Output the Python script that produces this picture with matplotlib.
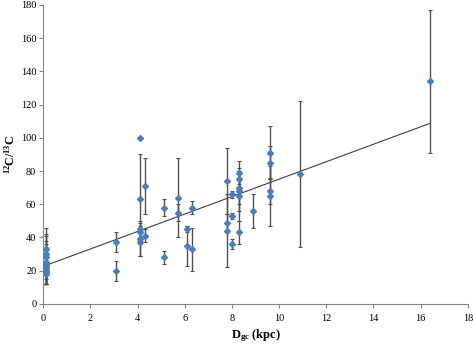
import numpy as np
import matplotlib
matplotlib.use("Agg")
import matplotlib.pyplot as plt

# values
x_gc = [0.1, 0.1, 0.1, 0.1, 0.1, 0.1, 0.1, 0.1, 0.1, 0.1, 0.1,
        3.1, 3.1,
        4.1, 4.1, 4.1, 4.1, 4.1, 4.1,
        4.3, 4.3,
        5.1, 5.1,
        5.7, 5.7,
        6.1, 6.1,
        6.3, 6.3,
        7.8, 7.8, 7.8,
        8.0, 8.0, 8.0,
        8.3, 8.3, 8.3, 8.3, 8.3, 8.3,
        8.9,
        9.6, 9.6, 9.6, 9.6,
        10.9,
        16.4]
ratio = [33, 30, 28, 25, 24, 23, 22, 21, 20, 19, 18,
         37, 20,
         100, 63, 45, 43, 39, 37,
         71, 41,
         58, 28,
         64, 55,
         45, 35,
         58, 33,
         74, 49, 44,
         66, 53, 36,
         79, 75, 70, 68, 65, 43,
         56,
         91, 85, 68, 65,
         78,
         134]
ratio_err = [13, 12, 13, 13, 12, 11, 10, 9, 8, 7, 6,
             6, 6,
             0, 27, 5, 4, 10, 8,
             17, 4,
             5, 4,
             24, 5,
             2, 12,
             4, 13,
             20, 5, 22,
             2, 2, 3,
             7, 7, 10, 12, 15, 7,
             10,
             16, 10, 8, 18,
             44,
             43]

# linear trend as drawn on the chart
trend_slope = 5.25
trend_intercept = 22.6
trend_x = [0.1, 16.4]

plt.rcParams['font.family'] = 'Liberation Serif'
plt.rcParams['mathtext.fontset'] = 'custom'
plt.rcParams['mathtext.rm'] = 'Liberation Serif'
plt.rcParams['mathtext.it'] = 'Liberation Serif:italic'
plt.rcParams['mathtext.bf'] = 'Liberation Serif:bold'

fig = plt.figure(figsize=(4.73, 3.45), dpi=100)
ax = fig.add_axes([0.0915, 0.119, 0.8975, 0.867])

ax.errorbar(x_gc, ratio, yerr=ratio_err, fmt='none', ecolor='#505050',
            elinewidth=1.0, capsize=1.5, capthick=0.8, zorder=2)
tx = np.array(trend_x)
ax.plot(tx, trend_slope * tx + trend_intercept, color='#404040', lw=0.8, zorder=3)
ax.plot(x_gc, ratio, 'D', color='#4A7EBB', markersize=3.0, zorder=4)

ax.set_xlim(0, 18)
ax.set_ylim(0, 180)
ax.set_xticks(np.arange(0, 19, 2))
ax.set_yticks(np.arange(0, 181, 20))
for s in ['top', 'right']:
    ax.spines[s].set_visible(False)
for s in ['left', 'bottom']:
    ax.spines[s].set_color('#868686')
    ax.spines[s].set_linewidth(0.8)
ax.tick_params(direction='out', length=3, width=0.8, color='#868686',
               labelsize=7.5, pad=2)
ax.tick_params(axis='x', pad=4)

ax.set_xlabel(r'$\mathbf{D_{gc}}$ (kpc)', fontsize=9, fontweight='bold', labelpad=3)
ax.set_ylabel(r'$\mathbf{{}^{12}C/{}^{13}C}$', fontsize=8.5, labelpad=2)

fig.savefig('out.png', dpi=100)
